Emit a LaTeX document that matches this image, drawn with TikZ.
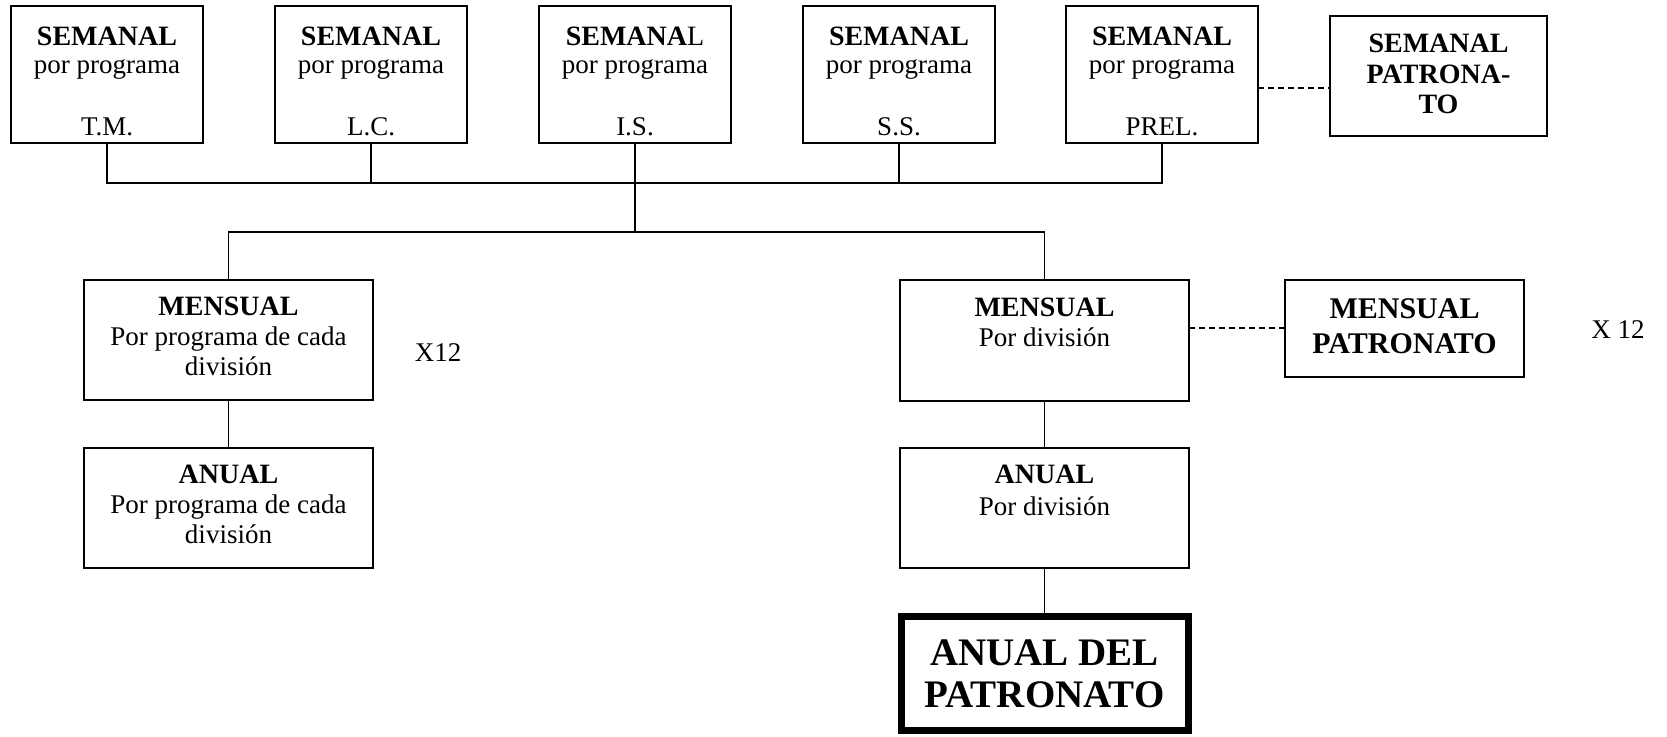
\documentclass[tikz,border=0pt]{standalone}
\usepackage{fontspec}
\setmainfont{Liberation Serif}
\usetikzlibrary{calc}
\begin{document}
\begin{tikzpicture}[x=1pt,y=-1pt,
  box/.style={draw, line width=1.8pt, anchor=north west, inner sep=0pt, outer sep=0pt},
  ln/.style={line width=1.5pt},
  dsh/.style={line width=1.5pt, dash pattern=on 6pt off 4pt},
  tb/.style={anchor=base, inner sep=0pt, font=\fontsize{28}{32}\selectfont\bfseries},
  tr/.style={anchor=base, inner sep=0pt, font=\fontsize{27}{32}\selectfont},
  tbm/.style={anchor=base, inner sep=0pt, font=\fontsize{30}{34}\selectfont\bfseries},
  tbig/.style={anchor=base, inner sep=0pt, font=\fontsize{39}{42}\selectfont\bfseries}]
\useasboundingbox (0,0) rectangle (1667,736);
% top weekly boxes
\foreach \i/\x/\lab in {1/11/T.M., 2/275/L.C., 4/803/S.S., 5/1066/PREL.}{
  \node[box, minimum width=192pt, minimum height=137pt] (s\i) at (\x,6) {};
  \node[tb] (s\i a) at ($(s\i.north)+(0,39)$) {SEMANAL};
  \node[tr] (s\i b) at ($(s\i.north)+(0,67)$) {por programa};
  \node[tr] (s\i c) at ($(s\i.north)+(0,129)$) {\lab};
}
\node[box, minimum width=192pt, minimum height=137pt] (s3) at (539,6) {};
\node[tb] (s3a) at ($(s3.north)+(0,39)$) {SEMANA\mdseries L};
\node[tr] (s3b) at ($(s3.north)+(0,67)$) {por programa};
\node[tr] (s3c) at ($(s3.north)+(0,129)$) {I.S.};
% semanal patronato
\node[box, minimum width=217pt, minimum height=120pt] (sp) at (1330,16) {};
\node[tb] (spa) at ($(sp.north)+(0,36)$) {SEMANAL};
\node[tb] (spb) at ($(sp.north)+(0,67)$) {PATRONA-};
\node[tb] (spc) at ($(sp.north)+(0,97)$) {TO};
% bus
\coordinate (b1) at (s1.south |- 0,183);
\coordinate (b5) at (s5.south |- 0,183);
\draw[ln] (s1.south) -- (b1) -- (b5) -- (s5.south);
\draw[ln] (s2.south) -- (s2.south |- b1);
\draw[ln] (s4.south) -- (s4.south |- b1);
\coordinate (c3) at (s3.south |- 0,232);
\draw[ln] (s3.south) -- (c3);
\draw[dsh] (s5.east |- 0,88) -- (sp.west |- 0,88);
% monthly boxes
\node[box, minimum width=289pt, minimum height=120pt] (ml) at (84,280) {};
\node[tb] (mla) at ($(ml.north)+(0,35)$) {MENSUAL};
\node[tr] (mlb) at ($(ml.north)+(0,65)$) {Por programa de cada};
\node[tr] (mlc) at ($(ml.north)+(0,95)$) {división};
\node[tr, anchor=center] (x1) at (438,353) {X12};
\node[box, minimum width=289pt, minimum height=120pt] (al) at (84,448) {};
\node[tb] (ala) at ($(al.north)+(0,35)$) {ANUAL};
\node[tr] (alb) at ($(al.north)+(0,65)$) {Por programa de cada};
\node[tr] (alc) at ($(al.north)+(0,95)$) {división};

\node[box, minimum width=289pt, minimum height=121pt] (mr) at (900,280) {};
\node[tb] (mra) at ($(mr.north)+(0,36)$) {MENSUAL};
\node[tr] (mrb) at ($(mr.north)+(0,66)$) {Por división};
\node[box, minimum width=239pt, minimum height=97pt] (mp) at (1285,280) {};
\node[tbm] (mpa) at ($(mp.north)+(0,38)$) {MENSUAL};
\node[tbm] (mpb) at ($(mp.north)+(0,73)$) {PATRONATO};
\node[tr, anchor=center] (x2) at (1618,330) {X 12};
\draw[dsh] (mr.east |- 0,328) -- (mp.west |- 0,328);
\node[box, minimum width=289pt, minimum height=120pt] (ar) at (900,448) {};
\node[tb] (ara) at ($(ar.north)+(0,35)$) {ANUAL};
\node[tr] (arb) at ($(ar.north)+(0,67)$) {Por división};

\node[draw, line width=7pt, anchor=north west, inner sep=0pt, outer sep=0pt, minimum width=287pt, minimum height=114pt] (ap) at (901,616) {};
\node[tbig] (apa) at ($(ap.north)+(0,49)$) {ANUAL DEL};
\node[tbig] (apb) at ($(ap.north)+(0,91)$) {PATRONATO};

% lower connections
\coordinate (cl) at (ml.north |- c3);
\coordinate (cr) at (mr.north |- c3);
\draw[ln] (ml.north) -- (cl) -- (cr) -- (mr.north);
\draw[ln] (ml.south) -- (al.north);
\draw[ln] (mr.south) -- (ar.north);
\draw[ln] (ar.south) -- (ap.north);
\end{tikzpicture}
\end{document}
